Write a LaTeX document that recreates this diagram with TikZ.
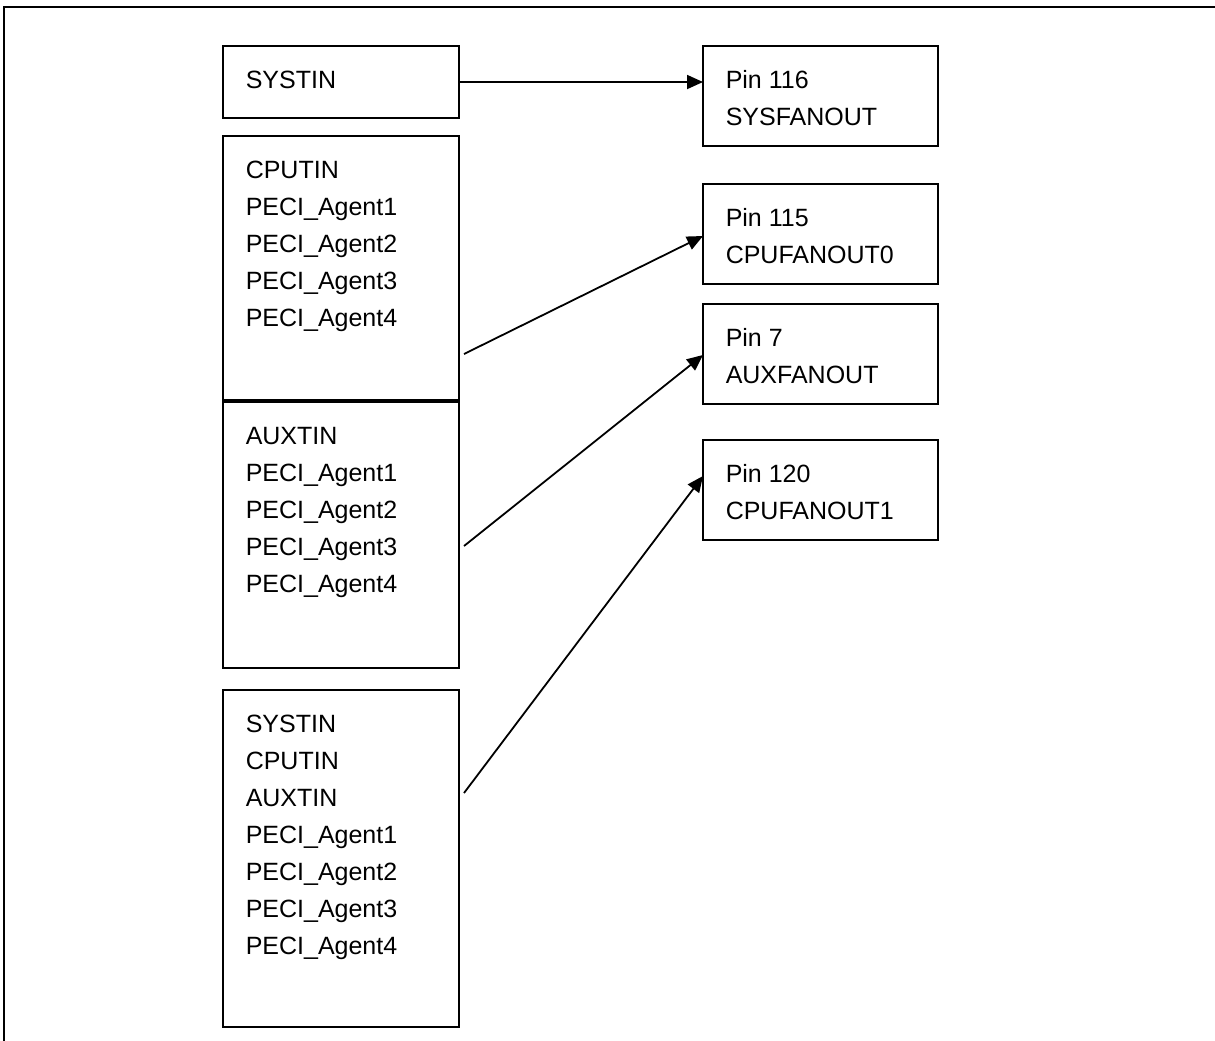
\documentclass[tikz,border=0pt]{standalone}
\usepackage{fontspec}
\setmainfont{Liberation Sans}
\usetikzlibrary{arrows.meta,positioning}

\begin{document}
\begin{tikzpicture}[
        x=0.5pt,y=-0.5pt,
        ->,>={Triangle[length=8pt,width=7pt]},
        line width=0.75pt,
        node distance=9pt,
        every edge/.append style={line width=0.9pt}
    ]

    \tikzstyle{block} = [rectangle,draw,outer sep=0pt,inner sep=0pt,anchor=north west]
    \tikzstyle{inbox} = [block,minimum width=118pt]
    \tikzstyle{pinbox} = [block,minimum width=117.5pt,minimum height=50pt]
    \tikzstyle{txt} = [anchor=north west,inner sep=0pt,align=left,
        font=\fontsize{12.5pt}{18.5pt}\selectfont]

    \useasboundingbox (0,0) rectangle (1215,1040);
    \draw[-,line width=1.2pt] (3.7,7) rectangle (1240,1060);

    % sensor inputs
    \node[inbox,minimum height=36pt] (systin) at (223,46) {};
    \node[inbox,minimum height=132pt,below=9pt of systin] (cpu) {};
    \node[inbox,minimum height=133pt,below=1pt of cpu] (aux) {};
    \node[inbox,minimum height=168.5pt,below=11pt of aux] (all) {};

    % fan outputs
    \node[pinbox] (sysfan) at (703,46) {};
    \node[pinbox,below=19pt of sysfan] (cpufan0) {};
    \node[pinbox,below=10pt of cpufan0] (auxfan) {};
    \node[pinbox,below=18pt of auxfan] (cpufan1) {};

    \node[txt] (systxt) at ([shift={(22,16)}]systin.north west) {\strut SYSTIN};
    \node[txt] (cputxt) at ([shift={(22,16)}]cpu.north west)
        {\strut CPUTIN\\PECI\_Agent1\\PECI\_Agent2\\PECI\_Agent3\\PECI\_Agent4};
    \node[txt] (auxtxt) at ([shift={(22,16)}]aux.north west)
        {\strut AUXTIN\\PECI\_Agent1\\PECI\_Agent2\\PECI\_Agent3\\PECI\_Agent4};
    \node[txt] (alltxt) at ([shift={(22,16)}]all.north west)
        {\strut SYSTIN\\CPUTIN\\AUXTIN\\PECI\_Agent1\\PECI\_Agent2\\PECI\_Agent3\\PECI\_Agent4};
    \node[txt] (sysfantxt) at ([shift={(22,16)}]sysfan.north west) {\strut Pin 116\\SYSFANOUT};
    \node[txt] (cpufan0txt) at ([shift={(22,16)}]cpufan0.north west) {\strut Pin 115\\CPUFANOUT0};
    \node[txt] (auxfantxt) at ([shift={(22,16)}]auxfan.north west) {\strut Pin 7\\AUXFANOUT};
    \node[txt] (cpufan1txt) at ([shift={(22,16)}]cpufan1.north west) {\strut Pin 120\\CPUFANOUT1};

    \path[]
        (systin.east) edge (systin.east -| sysfan.west)
        ([shift={(5,86)}]cpu.east) edge ([shift={(0,2)}]cpufan0.west)
        ([shift={(5,11)}]aux.east) edge ([shift={(0,1)}]auxfan.west)
        ([shift={(5,-65.5)}]all.east) edge ([shift={(0,-14)}]cpufan1.west)
    ;

\end{tikzpicture}
\end{document}
